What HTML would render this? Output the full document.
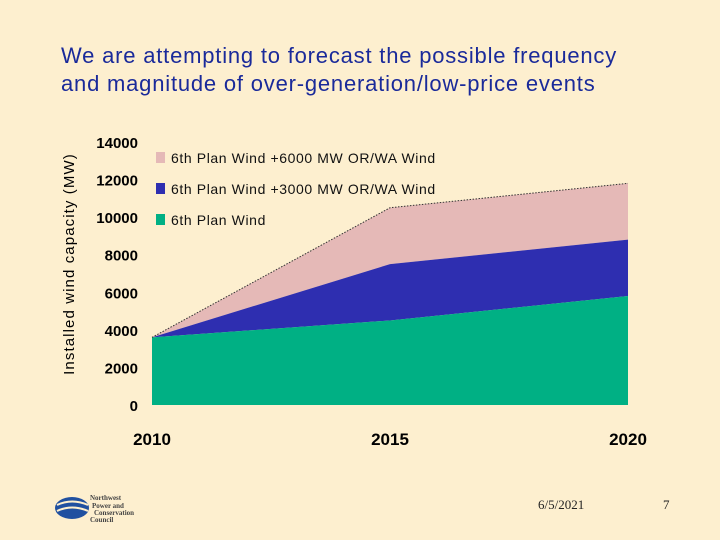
<!DOCTYPE html>
<html><head><meta charset="utf-8"><style>
body{margin:0;width:720px;height:540px;background:#fdefcf;overflow:hidden;font-family:"Liberation Sans",sans-serif}
</style></head><body>
<div style="position:relative;width:720px;height:540px">
<div style="position:absolute;left:61px;top:42px;font-size:22px;letter-spacing:0.8px;line-height:28px;color:#1a2a9a">We are attempting to forecast the possible frequency<br>and magnitude of over-generation/low-price events</div>
<svg width="720" height="540" style="position:absolute;left:0;top:0">
<g id="g"></g>
<g>
<ellipse cx="72" cy="508" rx="17" ry="11" fill="#2050a0"/>
<path d="M57 505 Q72 498 88 505 M57 511 Q72 504 88 511" stroke="#fdefcf" stroke-width="2" fill="none"/>
<text x="90" y="500" font-family="Liberation Serif,serif" font-size="7" font-weight="bold" fill="#444">Northwest</text>
<text x="92" y="508" font-family="Liberation Serif,serif" font-size="7" font-weight="bold" fill="#444">Power and</text>
<text x="94" y="515" font-family="Liberation Serif,serif" font-size="7" font-weight="bold" fill="#444">Conservation</text>
<text x="90" y="522" font-family="Liberation Serif,serif" font-size="7" font-weight="bold" fill="#444">Council</text>
</g>
<text x="538" y="509" font-family="Liberation Serif,serif" font-size="13" fill="#222">6/5/2021</text>
<text x="663" y="509" font-family="Liberation Serif,serif" font-size="13" fill="#222">7</text>
</svg>
</div>
<script>
const years=[2010,2015,2020];
const baseWind=[3600,4500,5800];
const add3000=[0,3000,3000];
const add6000=[0,3000,3000];
const yTicks=[0,2000,4000,6000,8000,10000,12000,14000];
const xTicks=[2010,2015,2020];
const legendLabels=["6th Plan Wind +6000 MW OR/WA Wind","6th Plan Wind +3000 MW OR/WA Wind","6th Plan Wind"];
const NS="http://www.w3.org/2000/svg";
const g=document.getElementById('g');
const X=v=>152+(v-2010)*(628-152)/10;
const Y=v=>405-v*(405-142)/14000;
function el(t,a){const e=document.createElementNS(NS,t);for(const k in a)e.setAttribute(k,a[k]);g.appendChild(e);return e;}
const l1=baseWind, l2=baseWind.map((v,i)=>v+add3000[i]), l3=l2.map((v,i)=>v+add6000[i]);
function area(top,bot,fill,name){
 let d='M'+years.map((y,i)=>X(y)+','+Y(top[i])).join(' L');
 for(let i=years.length-1;i>=0;i--)d+=' L'+X(years[i])+','+Y(bot[i]);
 const p=el('path',{d:d+'Z',fill:fill});
 
 
}
area(l3,l2,'#e5b9b7','area-plus-6000');
area(l2,l1,'#2e2eb0','area-plus-3000');
area(l1,[0,0,0],'#00b084','area-6th-plan');
const ln=el('polyline',{points:years.map((y,i)=>X(y)+','+Y(l3[i])).join(' '),fill:'none',stroke:'#333','stroke-width':1,'stroke-dasharray':'1.5,1.5'});


yTicks.forEach(v=>{const t=el('text',{x:138,y:Y(v)+6,'text-anchor':'end','font-size':15,'font-weight':'bold',fill:'#000'});t.textContent=v;

});
xTicks.forEach(v=>{const t=el('text',{x:X(v),y:445,'text-anchor':'middle','font-size':17,'font-weight':'bold',fill:'#000'});t.textContent=v;

});
const yt=el('text',{x:0,y:0,transform:'translate(74,264) rotate(-90)','text-anchor':'middle','font-size':15,'letter-spacing':1.1,fill:'#000'});yt.textContent='Installed wind capacity (MW)';


const lc=['#e5b9b7','#2e2eb0','#00b084'];
legendLabels.forEach((s,i)=>{const yy=158+i*31;
 const r=el('rect',{x:156,y:yy-6,width:9,height:11,fill:lc[i]});
 
 
 const t=el('text',{x:171,y:yy+5,'font-size':14,'letter-spacing':0.6,fill:'#111'});t.textContent=s;
 
 });
</script>
</body></html>
